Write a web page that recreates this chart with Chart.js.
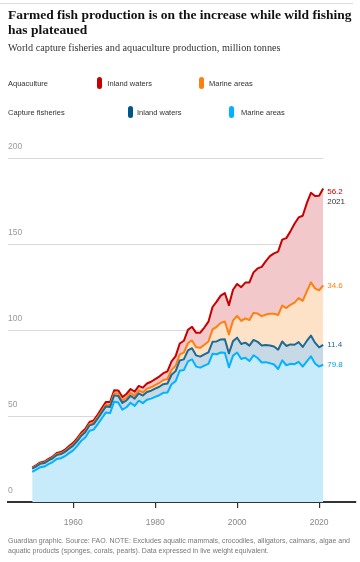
<!DOCTYPE html>
<html><head><meta charset="utf-8">
<script src="https://cdn.jsdelivr.net/npm/chart.js@4.4.1/dist/chart.umd.min.js"></script>
<style>
html,body{margin:0;padding:0;background:#fff;}
#wrap{position:relative;width:360px;height:562px;overflow:hidden;}
canvas{position:absolute;left:0;top:0;}
.t{position:absolute;white-space:nowrap;}
.title{left:8px;top:6.7px;font:bold 13.5px/15px "Liberation Serif",serif;color:#121212;}
.sub{left:8px;top:41.6px;font:10.2px/12px "Liberation Serif",serif;color:#333;}
.lg{font:7.5px/12px "Liberation Sans",sans-serif;color:#333;}
.sw{position:absolute;width:5px;height:12px;border-radius:2.5px;}
.foot{left:8px;top:535.7px;font:7px/10.7px "Liberation Sans",sans-serif;color:#777;}
.rule{position:absolute;left:0;top:3px;width:353px;height:1px;background:#dcdcdc;}
</style></head><body>
<div id="wrap">
<canvas id="c" width="360" height="562"></canvas>
<div class="rule"></div>
<div class="t title">Farmed fish production is on the increase while wild fishing<br>has plateaued</div>
<div class="t sub">World capture fisheries and aquaculture production, million tonnes</div>
<div class="t lg" style="left:8px;top:78.3px">Aquaculture</div>
<div class="sw" style="left:97.3px;top:77px;background:#c70000"></div>
<div class="t lg" style="left:107.3px;top:78.3px">Inland waters</div>
<div class="sw" style="left:199px;top:77px;background:#ff7f0f"></div>
<div class="t lg" style="left:209px;top:78.3px">Marine areas</div>
<div class="t lg" style="left:8px;top:107.3px">Capture fisheries</div>
<div class="sw" style="left:128.3px;top:106px;background:#005689"></div>
<div class="t lg" style="left:137px;top:107.3px">Inland waters</div>
<div class="sw" style="left:229.3px;top:106px;background:#00b2ff"></div>
<div class="t lg" style="left:241px;top:107.3px">Marine areas</div>
<div class="t foot">Guardian graphic. Source: FAO. NOTE: Excludes aquatic mammals, crocodiles, alligators, caimans, algae and<br>aquatic products (sponges, corals, pearls). Data expressed in live weight equivalent.</div>
</div>
<script>
const years = [1950,1951,1952,1953,1954,1955,1956,1957,1958,1959,
1960,1961,1962,1963,1964,1965,1966,1967,1968,1969,
1970,1971,1972,1973,1974,1975,1976,1977,1978,1979,
1980,1981,1982,1983,1984,1985,1986,1987,1988,1989,
1990,1991,1992,1993,1994,1995,1996,1997,1998,1999,
2000,2001,2002,2003,2004,2005,2006,2007,2008,2009,
2010,2011,2012,2013,2014,2015,2016,2017,2018,2019,
2020,2021];

// Capture fisheries, marine areas (million tonnes)
const captureMarine = [17.5,18.8,20.2,20.6,22.0,23.2,25.0,25.4,26.6,28.4,
30.0,32.6,35.6,37.6,41.4,42.0,45.2,48.6,52.0,51.6,
58.2,57.8,53.6,55.0,57.6,55.8,58.8,57.4,59.4,60.0,
61.0,62.0,63.4,63.6,68.4,70.2,76.2,76.6,81.6,82.8,
78.6,78.0,79.2,80.2,86.0,85.8,86.8,86.6,78.2,85.0,
86.8,83.0,83.8,81.8,85.2,83.6,81.0,81.2,80.6,79.8,
77.2,82.2,79.4,80.2,80.0,81.4,78.6,81.6,84.6,80.4,
78.6,79.8];

// Capture fisheries, inland waters
const captureInland = [1.8,1.9,2.0,2.0,2.1,2.2,2.3,2.4,2.5,2.6,
2.7,2.8,2.9,3.0,3.1,3.2,3.3,3.4,3.5,3.6,
3.7,3.8,3.9,4.0,4.1,4.2,4.3,4.4,4.5,4.6,
4.8,4.9,5.0,5.2,5.5,5.8,6.0,6.2,6.4,6.5,
6.5,6.4,6.5,6.7,7.0,7.4,7.6,7.9,8.1,8.4,
8.6,8.7,8.7,9.0,8.9,9.4,9.8,10.0,10.3,10.5,
11.2,11.0,11.2,11.3,11.3,11.4,11.4,11.9,12.0,12.1,
11.2,11.4];

// Aquaculture, marine areas
const aquaMarine = [0.3,0.3,0.3,0.4,0.4,0.4,0.5,0.5,0.5,0.6,
0.6,0.7,0.7,0.8,0.8,0.9,0.9,1.0,1.0,1.1,
1.2,1.3,1.4,1.5,1.6,1.6,1.7,1.8,1.9,2.0,
2.1,2.2,2.4,2.6,2.8,3.1,3.5,3.9,4.3,4.5,
4.8,5.1,5.6,6.3,7.2,8.5,9.6,10.3,11.0,12.0,
12.6,13.4,14.1,14.8,15.7,16.4,17.1,17.6,18.4,19.0,
20.2,20.8,22.0,23.0,24.4,25.6,26.8,28.8,30.9,31.5,
33.1,34.6];

// Aquaculture, inland waters
const aquaInland = [0.4,0.4,0.5,0.5,0.6,0.6,0.7,0.7,0.8,0.9,
1.0,1.0,1.1,1.2,1.2,1.3,1.4,1.5,1.6,1.7,
1.8,1.9,2.0,2.2,2.3,2.5,2.6,2.8,3.0,3.2,
3.4,3.7,4.0,4.4,5.0,5.6,6.3,6.9,7.6,7.9,
8.3,8.8,10.0,11.5,13.0,14.6,15.8,16.5,17.0,17.8,
18.6,19.6,20.8,21.9,23.5,26.2,28.6,31.0,33.4,35.0,
36.8,38.3,40.6,42.6,45.8,46.8,49.4,51.2,52.0,53.6,
54.9,56.2];

const xTicks = [1960,1980,2000,2020];
const yTicks = [0,50,100,150,200];

const endLabels = ["79.8","11.4","34.6","56.2"];
const lastYearLabel = "2021";

const pts = arr => years.map((y,i)=>({x:y, y:arr[i]}));

const series = [
  {label:'Capture fisheries – Marine areas', data:pts(captureMarine), line:'#00b2ff', fillc:'#c8ebfb', fill:'origin'},
  {label:'Capture fisheries – Inland waters', data:pts(captureInland), line:'#1d6a94', fillc:'#c6d9e4', fill:'-1'},
  {label:'Aquaculture – Marine areas', data:pts(aquaMarine), line:'#ff7f0f', fillc:'#fde2c8', fill:'-1'},
  {label:'Aquaculture – Inland waters', data:pts(aquaInland), line:'#c70000', fillc:'#f3c8ca', fill:'-1'}
];
const labelColors = ['#00a0e6','#1d6a94','#ff7f0f','#c70000'];

const gridPlugin = {
  id:'grid',
  beforeDatasetsDraw(chart){
    const {ctx, chartArea, scales:{x,y}} = chart;
    const xr = x.getPixelForValue(years[years.length-1]);
    ctx.save();
    ctx.strokeStyle = '#d9d9d9';
    ctx.lineWidth = 1;
    yTicks.forEach(v=>{
      if (v===0) return;
      const py = Math.round(y.getPixelForValue(v))+0.5;
      ctx.beginPath(); ctx.moveTo(chartArea.left, py); ctx.lineTo(xr, py); ctx.stroke();
    });
    ctx.restore();
  }
};

const endLabelPlugin = {
  id:'endLabels',
  afterDatasetsDraw(chart){
    const {ctx} = chart;
    ctx.save();
    ctx.font = '8px "Liberation Sans", sans-serif';
    ctx.textBaseline = 'middle';
    ctx.textAlign = 'left';
    series.forEach((s,i)=>{
      const meta = chart.getDatasetMeta(i);
      const pt = meta.data[meta.data.length-1];
      const off = (i===3) ? 3.5 : 0;
      ctx.fillStyle = labelColors[i];
      ctx.fillText(endLabels[i], pt.x+4, pt.y+off);
      if (i===3){
        ctx.fillStyle = '#333';
        ctx.fillText(lastYearLabel, pt.x+4, pt.y+off+9.5);
      }
    });
    ctx.restore();
  }
};

new Chart(document.getElementById('c'), {
  type:'line',
  data:{
    datasets: series.map(s=>({
      label:s.label, data:s.data, borderColor:s.line, backgroundColor:s.fillc,
      fill:s.fill, borderWidth:2, pointRadius:0, tension:0, borderJoinStyle:'round'
    }))
  },
  options:{
    responsive:false, animation:false, devicePixelRatio:1,
    layout:{padding:{top:157.5,left:8,right:4,bottom:0}},
    plugins:{legend:{display:false}, tooltip:{enabled:false}},
    scales:{
      x:{type:'linear', min:1944.1, max:2029,
        afterBuildTicks: s => { s.ticks = xTicks.map(v=>({value:v})); },
        afterFit: s => { s.height = 60; },
        grid:{drawOnChartArea:false, drawTicks:true, tickLength:6, color:'#333', lineWidth:1.2},
        border:{display:true, color:'#333', width:2},
        ticks:{padding:10, color:'#888', font:{family:'Liberation Sans', size:8.5}, maxRotation:0, autoSkip:false,
          callback: v => String(v)}
      },
      y:{stacked:true, min:0, max:200, position:'left',
        afterBuildTicks: s => { s.ticks = yTicks.map(v=>({value:v})); },
        afterFit: s => { s.width = 0; },
        grid:{display:false, drawTicks:false}, border:{display:false},
        ticks:{mirror:true, padding:0, labelOffset:-11, color:'#9a9a9a', font:{family:'Liberation Sans', size:8.5},
          callback: v => String(v)}
      }
    }
  },
  plugins:[gridPlugin, endLabelPlugin]
});
</script>
</body></html>
